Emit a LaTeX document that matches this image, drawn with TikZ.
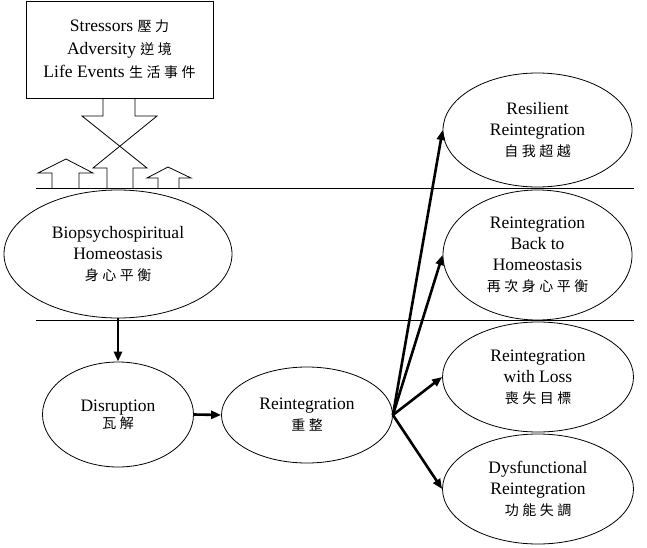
\documentclass[tikz,border=0pt]{standalone}
\usepackage{fontspec}
\setmainfont{Liberation Serif}
\newfontfamily\zhfont[LetterSpace=25]{Noto Sans CJK TC}
\newcommand{\zhtext}[1]{{\zhfont\fontsize{14}{20}\selectfont #1}}
\usetikzlibrary{arrows.meta,shapes.geometric}

\begin{document}
\begin{tikzpicture}[x=1pt,y=-1pt,
oval/.style={ellipse,draw,line width=0.8pt,inner sep=0pt,align=center,font=\fontsize{17.5}{21}\selectfont},
flow/.style={line width=2.6pt,-{Triangle[length=10pt,width=8pt]}},
rule/.style={line width=0.8pt}]
\useasboundingbox (0,0) rectangle (647,548);
\node[draw,rule,minimum width=187pt,minimum height=97pt,align=center,font=\fontsize{17.5}{23}\selectfont] (stress) at (119.5,49.5)
  {Stressors \zhtext{壓力}\\Adversity \zhtext{逆境}\\Life Events \zhtext{生活事件}};
% tail of the box crossing the middle arrow
\draw[rule] (103,98) -- (103,116) -- (82,116) -- (147,168) -- (133,168) -- (133,188);
\draw[rule] (135,98) -- (135,116) -- (157,116) -- (93,168) -- (107,168) -- (107,188);
\draw[rule] (52,188) -- (52,173) -- (38,173) -- (66,159) -- (93,173) -- (79,173) -- (79,188);
\draw[rule] (158,188) -- (158,178) -- (147,178) -- (168,167) -- (191,178) -- (179,178) -- (179,188);
\draw[rule] (36,188) -- (634,188);
\draw[rule] (36,320) -- (634,320);
% left side
\node[oval,minimum width=228pt,minimum height=128pt] (bio) at (118,254) {Biopsychospiritual\\Homeostasis\\\zhtext{身心平衡}};
\node[oval,minimum width=151pt,minimum height=105pt] (dis) at (118,414.5) {Disruption\\[-4pt]\zhtext{瓦解}};
\node[oval,minimum width=171pt,minimum height=96pt] (reint) at (307,415) {Reintegration\\\zhtext{重整}};
% right side
\node[oval,minimum width=189pt,minimum height=114pt] (res) at (537.5,130) {Resilient\\Reintegration\\\zhtext{自我超越}};
\node[oval,minimum width=189pt,minimum height=130pt] (back) at (537.5,255) {Reintegration\\Back to\\Homeostasis\\\zhtext{再次身心平衡}};
\node[oval,minimum width=191pt,minimum height=110pt] (loss) at (538,377) {Reintegration\\with Loss\\\zhtext{喪失目標}};
\node[oval,minimum width=191pt,minimum height=110pt] (dys) at (538,489) {Dysfunctional\\Reintegration\\\zhtext{功能失調}};
\draw[flow] (bio.south) -- (dis.north);
\draw[flow] (dis.east) -- (reint.west);
\foreach \n in {res,back,loss,dys}
  \draw[flow] (reint.east) -- (\n.west);
\end{tikzpicture}
\end{document}
